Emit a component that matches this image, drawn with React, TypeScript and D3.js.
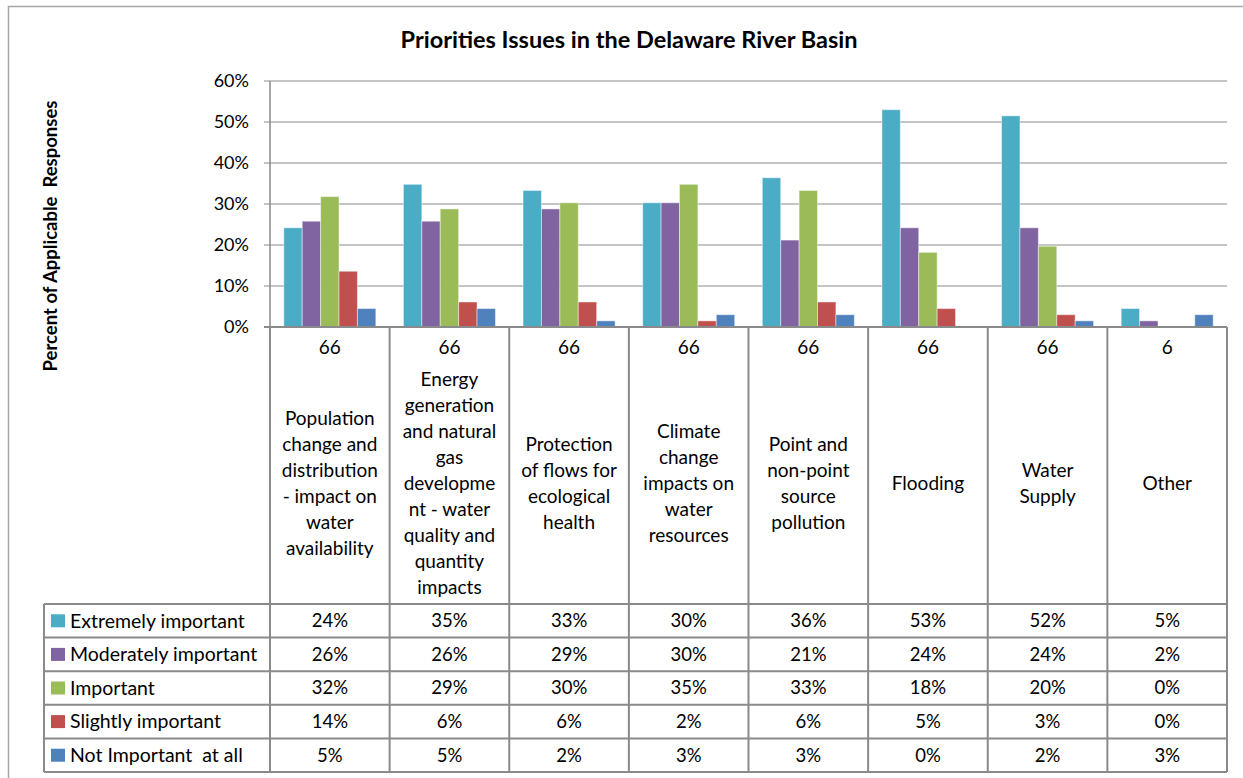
import React from "react";
import * as d3 from "d3";

const categories = [
  "Population change and distribution - impact on water availability",
  "Energy generation and natural gas development - water quality and quantity impacts",
  "Protection of flows for ecological health",
  "Climate change impacts on water resources",
  "Point and non-point source pollution",
  "Flooding",
  "Water Supply",
  "Other",
];
const categoryLines = [
  ["Population", "change and", "distribution", "- impact on", "water", "availability"],
  ["Energy", "generation", "and natural", "gas", "developme", "nt - water", "quality and", "quantity", "impacts"],
  ["Protection", "of flows for", "ecological", "health"],
  ["Climate", "change", "impacts on", "water", "resources"],
  ["Point and", "non-point", "source", "pollution"],
  ["Flooding"],
  ["Water", "Supply"],
  ["Other"],
];
const responseCounts = [66, 66, 66, 66, 66, 66, 66, 6];

const seriesNames = [
  "Extremely important",
  "Moderately important",
  "Important",
  "Slightly important",
  "Not Important  at all",
];
const seriesColors = ["#4BACC6", "#8064A2", "#9BBB59", "#C0504D", "#4F81BD"];

const extremely = [24.2, 34.8, 33.3, 30.3, 36.4, 53.0, 51.5, 4.5];
const moderately = [25.8, 25.8, 28.8, 30.3, 21.2, 24.2, 24.2, 1.5];
const important = [31.8, 28.8, 30.3, 34.8, 33.3, 18.2, 19.7, 0];
const slightly = [13.6, 6.1, 6.1, 1.5, 6.1, 4.5, 3.0, 0];
const notImportant = [4.5, 4.5, 1.5, 3.0, 3.0, 0, 1.5, 3.0];
const seriesValues = [extremely, moderately, important, slightly, notImportant];

const yTicks = [0, 10, 20, 30, 40, 50, 60];

const W = 1243;
const H = 778;
const FONT = "Lato, 'Open Sans', sans-serif";
const plotLeft = 270;
const plotRight = 1227;
const plotTop = 81;
const plotBottom = 327;
const tableLeft = 44;
const tableTop = 604;
const rowH = 33.6;
const gridColor = "#8a8a8a";

export default function App() {
  const x0 = d3.scaleBand<number>().domain(d3.range(categories.length)).range([plotLeft, plotRight]).paddingInner(0).paddingOuter(0);
  const bw = x0.bandwidth();
  const gap = (bw * 0.75) / 6.5;
  const x1 = d3.scaleBand<number>().domain(d3.range(seriesNames.length)).range([gap, bw - gap]);
  const y = d3.scaleLinear().domain([0, 60]).range([plotBottom, plotTop]);
  const tableBottom = tableTop + rowH * seriesNames.length;
  const bounds = d3.range(categories.length + 1).map((i) => (i < categories.length ? (x0(i) as number) : plotRight));

  return (
    <svg width={W} height={H} style={{ position: "absolute", left: 0, top: 0, background: "#fff" }} fontFamily={FONT}>
      <rect x={8.5} y={6.5} width={1300} height={900} fill="#fff" stroke="#a6a6a6" strokeWidth={1.5} />
      <text x={629} y={48} textAnchor="middle" fontSize={23.5} fontWeight="bold" fill="#000">
        Priorities Issues in the Delaware River Basin
      </text>
      <text
        transform={`translate(57,${236}) rotate(-90)`}
        textAnchor="middle"
        fontSize={18.5}
        fontWeight="bold"
        fill="#000"
        style={{ whiteSpace: "pre" }}
      >
        {"Percent of Applicable  Responses"}
      </text>

      {/* gridlines and y ticks */}
      {yTicks.map((t) => (
        <g key={t}>
          <line x1={plotLeft - 6} x2={plotRight} y1={y(t)} y2={y(t)} stroke={gridColor} strokeWidth={1} />
          <text x={249} y={y(t)} dy="0.35em" textAnchor="end" fontSize={18} fill="#000">
            {t}%
          </text>
        </g>
      ))}
      <line x1={plotLeft} x2={plotLeft} y1={plotTop} y2={plotBottom} stroke={gridColor} strokeWidth={1.5} />

      {/* bars */}
      {seriesValues.map((vals, s) =>
        vals.map((v, i) =>
          v > 0 ? (
            <rect
              key={`${s}-${i}`}
              x={(x0(i) as number) + (x1(s) as number)}
              y={y(v)}
              width={x1.bandwidth()}
              height={plotBottom - y(v)}
              fill={seriesColors[s]}
              stroke="rgba(255,255,255,0.45)"
              strokeWidth={1}
            />
          ) : null
        )
      )}
      <line x1={plotLeft - 6} x2={plotRight} y1={plotBottom} y2={plotBottom} stroke={gridColor} strokeWidth={2} />

      {/* category cells */}
      {bounds.map((bx, i) => (
        <line key={`vb${i}`} x1={bx} x2={bx} y1={plotBottom} y2={tableBottom} stroke={gridColor} strokeWidth={2} />
      ))}
      {categories.map((c, i) => {
        const cx = (x0(i) as number) + bw / 2;
        const lines = categoryLines[i];
        const lh = 26;
        const start = 483 - ((lines.length - 1) * lh) / 2;
        return (
          <g key={c}>
            <text x={cx} y={347} dy="0.35em" textAnchor="middle" fontSize={19} fill="#000">
              {responseCounts[i]}
            </text>
            <text textAnchor="middle" fontSize={19} fill="#000">
              {lines.map((ln, k) => (
                <tspan key={k} x={cx} y={start + k * lh} dy="0.35em">
                  {ln}
                </tspan>
              ))}
            </text>
          </g>
        );
      })}

      {/* data table */}
      {d3.range(seriesNames.length + 1).map((r) => (
        <line
          key={`hr${r}`}
          x1={tableLeft}
          x2={plotRight}
          y1={tableTop + r * rowH}
          y2={tableTop + r * rowH}
          stroke={gridColor}
          strokeWidth={2}
        />
      ))}
      <line x1={tableLeft} x2={tableLeft} y1={tableTop} y2={tableBottom} stroke={gridColor} strokeWidth={2} />
      {seriesNames.map((name, s) => {
        const cy = tableTop + s * rowH + rowH / 2;
        return (
          <g key={name}>
            <rect x={51} y={cy - 6.5} width={14} height={13} fill={seriesColors[s]} />
            <text x={70} y={cy} dy="0.35em" fontSize={19.5} fill="#000" style={{ whiteSpace: "pre" }}>
              {name}
            </text>
            {seriesValues[s].map((v, i) => (
              <text key={i} x={(x0(i) as number) + bw / 2} y={cy} dy="0.35em" textAnchor="middle" fontSize={18.5} fill="#000">
                {Math.round(v)}%
              </text>
            ))}
          </g>
        );
      })}
    </svg>
  );
}
